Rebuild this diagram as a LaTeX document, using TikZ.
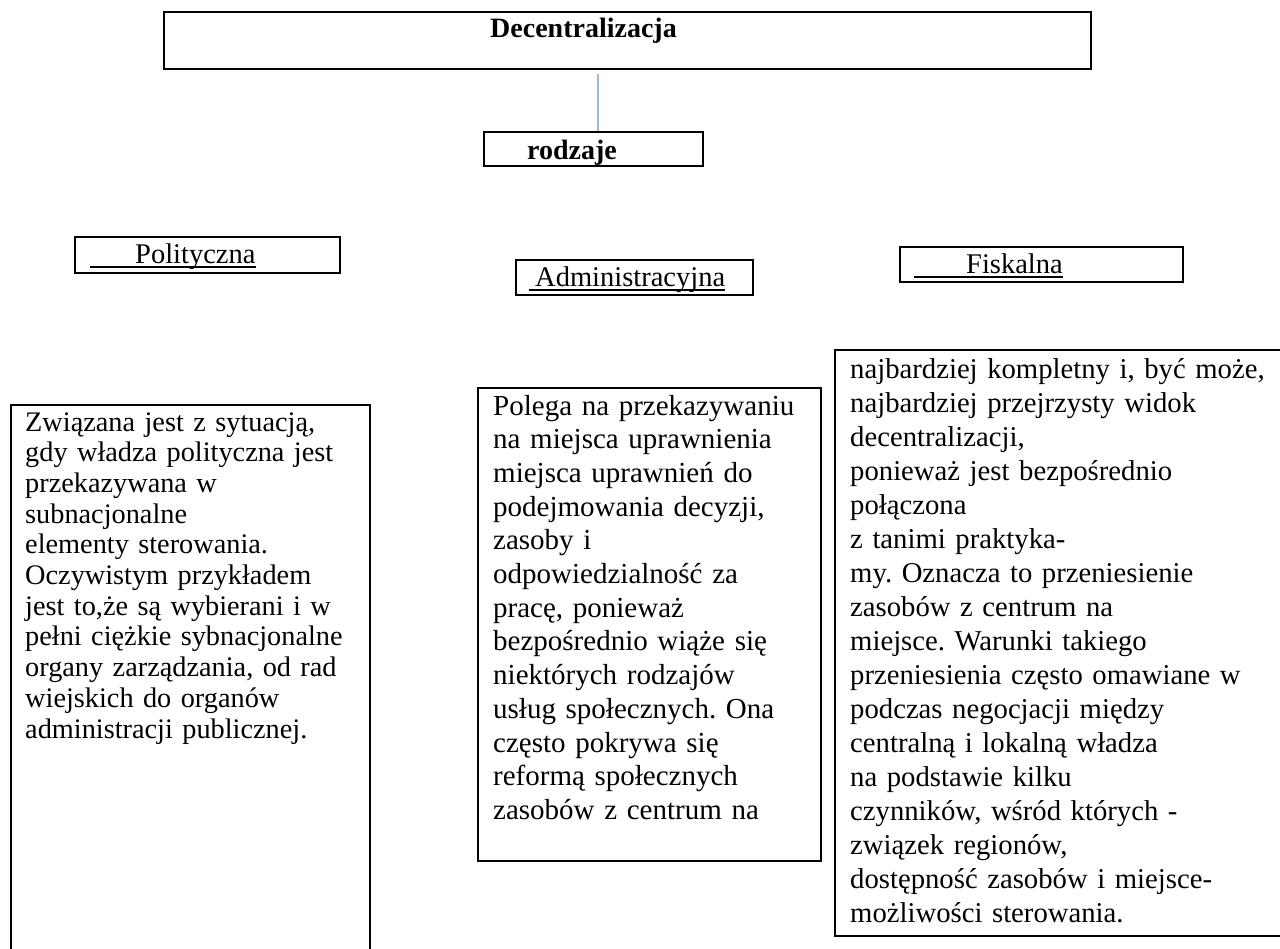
\documentclass[tikz,border=0pt]{standalone}
\usepackage{fontspec}
\setmainfont{Liberation Serif}
\usepackage{tikz}
\definecolor{linkblue}{RGB}{156,185,217}
\frenchspacing
% a framed kind of decentralisation, with its underlined name
\newcommand{\drawkindbox}[7]{
  \node[boxframe, minimum width=#3, minimum height=#4] (#1box) at #2 {};
  \node[kind] (#1) at #5 {#7};
  \draw[uline] ([shift={(-#6,4)}]#1.base west) -- ([shift={(0,4)}]#1.base east);
}

\begin{document}
\begin{tikzpicture}[x=1pt, y=-1pt,
    boxframe/.style={draw, line width=2pt, inner sep=0pt, anchor=north west},
    headbold/.style={inner sep=0pt, anchor=base west,
      font=\fontsize{28}{30}\selectfont\bfseries},
    kind/.style={inner sep=0pt, anchor=base west, font=\fontsize{28.5}{30}\selectfont},
    body/.style={inner sep=0pt, anchor=base west, align=left},
    uline/.style={line width=1.4pt},
    link/.style={draw=linkblue, line width=1.2pt}
  ]
  \useasboundingbox (0,0) rectangle (1280,948);
  \clip (0,0) rectangle (1280,948);

  % Top: the notion and its kinds
  \node[boxframe, minimum width=927pt, minimum height=57pt] (declbox) at (163,11) {};
  \node[headbold] (decl) at (490,37) {Decentralizacja};
  \node[boxframe, minimum width=219pt, minimum height=34pt] (rodzbox) at (483,131) {};
  \node[headbold] (rodz) at (527,159) {rodzaje};
  \coordinate (tap) at (598,0);
  \draw[link] ([yshift=-4pt]declbox.south -| tap) -- (rodzbox.north -| tap);

  % The three kinds
  \drawkindbox{polit}{(74,236)}{265pt}{36pt}{(135,263)}{45}{Polityczna}
  \drawkindbox{admin}{(515,259)}{237pt}{35pt}{(535,286)}{6}{Administracyjna}
  \drawkindbox{fisk}{(899,246)}{283pt}{35pt}{(966,273)}{52}{Fiskalna}

  % Descriptions
  \node[boxframe, minimum width=359pt, minimum height=560pt] (politdesc) at (10,404) {};
  \node[body, text width=345pt, font=\fontsize{28.3}{30.7}\selectfont] (polittext) at (25,431)
    {Związana jest z sytuacją,\\
     gdy władza polityczna jest\\
     przekazywana w\\
     subnacjonalne\\
     elementy sterowania.\\
     Oczywistym przykładem\\
     jest to,że są wybierani i w\\
     pełni ciężkie sybnacjonalne\\
     organy zarządzania, od rad\\
     wiejskich do organów\\
     administracji publicznej.};

  \node[boxframe, minimum width=343pt, minimum height=473pt] (admindesc) at (477,387) {};
  \node[body, text width=320pt, font=\fontsize{29}{33.7}\selectfont] (admintext) at (493,415)
    {Polega na przekazywaniu\\
     na miejsca uprawnienia\\
     miejsca uprawnień do\\
     podejmowania decyzji,\\
     zasoby i\\
     odpowiedzialność za\\
     pracę, ponieważ\\
     bezpośrednio wiąże się\\
     niektórych rodzajów\\
     usług społecznych. Ona\\
     często pokrywa się\\
     reformą społecznych\\
     zasobów z centrum na};

  \node[boxframe, minimum width=460pt, minimum height=586pt] (fiskdesc) at (834,349) {};
  \node[body, text width=425pt, font=\fontsize{28.7}{34}\selectfont] (fisktext) at (850,378)
    {najbardziej kompletny i, być może,\\
     najbardziej przejrzysty widok\\
     decentralizacji,\\
     ponieważ jest bezpośrednio\\
     połączona\\
     z tanimi praktyka-\\
     my. Oznacza to przeniesienie\\
     zasobów z centrum na\\
     miejsce. Warunki takiego\\
     przeniesienia często omawiane w\\
     podczas negocjacji między\\
     centralną i lokalną władza\\
     na podstawie kilku\\
     czynników, wśród których -\\
     związek regionów,\\
     dostępność zasobów i miejsce-\\
     możliwości sterowania.};
\end{tikzpicture}
\end{document}
